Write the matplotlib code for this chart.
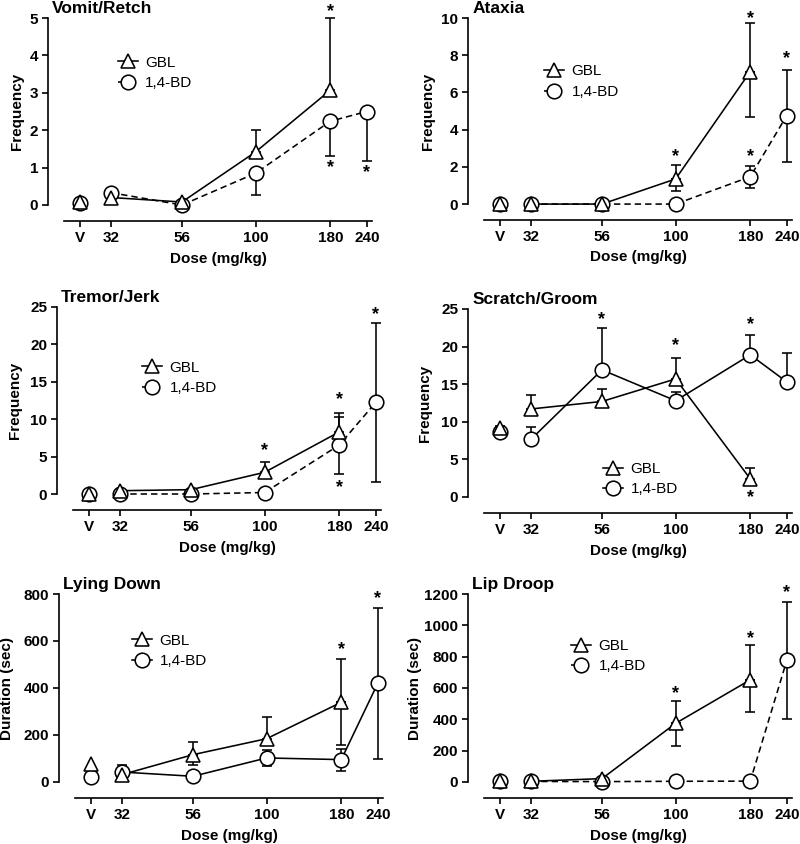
import numpy as np
import matplotlib
matplotlib.use('Agg')
import matplotlib.pyplot as plt
from matplotlib.lines import Line2D

plt.rcParams['font.family'] = ['Liberation Sans', 'DejaVu Sans']
plt.rcParams['font.weight'] = 'bold'

nan = np.nan

# ---------------- data ----------------
dose_labels = ['V', '32', '56', '100', '180', '240']
dose_pos = [25, 32, 56, 100, 180, 240]   # "V" drawn at 25 on the log dose axis

# Vomit/Retch
vomit_gbl = [0.07, 0.2, 0.08, 1.42, 3.07, nan]
vomit_gbl_up = [nan, nan, nan, 2.0, 5.0, nan]
vomit_gbl_lo = [nan, nan, nan, nan, nan, nan]
vomit_bd = [0.05, 0.33, 0.0, 0.85, 2.24, 2.5]
vomit_bd_up = [nan, nan, nan, nan, nan, nan]
vomit_bd_lo = [nan, nan, nan, 0.27, 1.3, 1.18]
vomit_star_x = [180, 180, 240]
vomit_star_y = [5.25, 1.08, 0.93]

# Ataxia
ataxia_gbl = [0, 0, 0, 1.35, 7.12, nan]
ataxia_gbl_up = [nan, nan, nan, 2.1, 9.73, nan]
ataxia_gbl_lo = [nan, nan, nan, 0.71, 4.7, nan]
ataxia_bd = [0, 0, 0, 0, 1.47, 4.76]
ataxia_bd_up = [nan, nan, nan, nan, 2.06, 7.2]
ataxia_bd_lo = [nan, nan, nan, nan, 0.85, 2.27]
ataxia_star_x = [100, 180, 180, 240]
ataxia_star_y = [2.66, 10.09, 2.66, 7.96]

# Tremor/Jerk
tremor_gbl = [0, 0.44, 0.58, 2.9, 8.3, nan]
tremor_gbl_up = [nan, nan, nan, 4.3, 10.8, nan]
tremor_gbl_lo = [nan, nan, nan, nan, nan, nan]
tremor_bd = [0, 0, 0, 0.2, 6.55, 12.25]
tremor_bd_up = [nan, nan, nan, nan, 10.3, 22.9]
tremor_bd_lo = [nan, nan, nan, nan, 2.65, 1.6]
tremor_star_x = [100, 180, 180, 240]
tremor_star_y = [6.1, 12.9, 1.24, 24.3]

# Scratch/Groom
scratch_gbl = [9.2, 11.7, 12.7, 15.7, 2.4, nan]
scratch_gbl_up = [9.5, 13.6, 14.4, 18.5, 3.86, nan]
scratch_gbl_lo = [nan, nan, nan, nan, nan, nan]
scratch_bd = [8.7, 7.65, 16.9, 12.8, 18.9, 15.3]
scratch_bd_up = [nan, 9.3, 22.5, 14.0, 21.5, 19.2]
scratch_bd_lo = [8.0, nan, nan, nan, nan, nan]
scratch_star_x = [56, 100, 180, 180]
scratch_star_y = [23.9, 20.4, 23.2, 0.3]

# Lying Down
lying_gbl = [78, 31, 116, 184, 339, nan]
lying_gbl_up = [nan, 74, 169, 276, 524, nan]
lying_gbl_lo = [nan, nan, 74, nan, 159, nan]
lying_bd = [21, 42, 24, 102, 95, 420]
lying_bd_up = [nan, nan, nan, 134, 140, 739]
lying_bd_lo = [nan, nan, nan, 69, 45, 99]
lying_star_x = [180, 240]
lying_star_y = [574, 789]

# Lip Droop
lip_gbl = [3, 4, 21, 374, 652, nan]
lip_gbl_up = [nan, nan, nan, 519, 876, nan]
lip_gbl_lo = [nan, nan, nan, 229, 449, nan]
lip_bd = [5, 3, 2, 4, 5, 776]
lip_bd_up = [nan, nan, nan, nan, nan, 1147]
lip_bd_lo = [nan, nan, nan, nan, nan, 400]
lip_star_x = [100, 180, 240]
lip_star_y = [577, 929, 1224]

# ---------------- drawing ----------------
W, H = 800, 844
fig = plt.figure(figsize=(W / 100, H / 100), dpi=100)

LW = 1.15
FS = 11
X = np.array(dose_pos, float)


def px_axes(l, t, r, b):
    return fig.add_axes([l / W, 1 - b / H, (r - l) / W, (b - t) / H])


def errbars(ax, mean, up, lo):
    mean = np.array(mean, float)
    for ends, is_up in ((up, True), (lo, False)):
        e = np.array(ends, float)
        m = np.isfinite(e)
        if not m.any():
            continue
        d = np.abs(e[m] - mean[m])
        z = np.zeros_like(d)
        yerr = [z, d] if is_up else [d, z]
        ax.errorbar(X[m], mean[m], yerr=yerr, fmt='none', ecolor='black',
                    elinewidth=LW, capsize=3.8, capthick=LW, zorder=2,
                    clip_on=False)


def panel(box, title, ylabel, ymax, ystep, gbl, gbl_up, gbl_lo, bd, bd_up, bd_lo,
          star_x, star_y, bd_dashed, leg_xy, ylab_x):
    ax = px_axes(*box)
    ax.set_xscale('log')
    ax.set_xlim(19.5, 252)
    ax.set_ylim(-ymax * 16 / 187, ymax)
    bd_ls = (0, (4, 2.5)) if bd_dashed else '-'

    errbars(ax, bd, bd_up, bd_lo)
    errbars(ax, gbl, gbl_up, gbl_lo)
    ax.plot(X[1:], np.array(bd, float)[1:], color='black', lw=LW, ls=bd_ls, zorder=3, clip_on=False)
    ax.plot(X[1:], np.array(gbl, float)[1:], color='black', lw=LW, ls='-', zorder=3, clip_on=False)
    ax.plot(X, bd, ls='none', marker='o', ms=10.5, mfc='white', mec='black', mew=LW,
            zorder=4, clip_on=False)
    ax.plot(X, gbl, ls='none', marker='^', ms=10, mfc='white', mec='black', mew=LW,
            zorder=5, clip_on=False)

    for sx, sy in zip(star_x, star_y):
        ax.annotate('*', xy=(sx, sy), xytext=(0, -1.8), textcoords='offset points',
                    ha='center', va='center', fontsize=13, fontweight='bold',
                    annotation_clip=False)

    ax.spines['top'].set_visible(False)
    ax.spines['right'].set_visible(False)
    for s in ('left', 'bottom'):
        ax.spines[s].set_linewidth(1.2)
    ax.spines['left'].set_bounds(0, ymax)
    ax.spines['bottom'].set_bounds(22.1, 250)

    ax.set_xticks(X)
    ax.set_xticklabels(dose_labels)
    ax.xaxis.set_minor_locator(matplotlib.ticker.NullLocator())
    ax.set_yticks(np.arange(0, ymax + ystep / 2, ystep))
    ax.tick_params(axis='both', direction='out', length=4, width=1.2,
                   labelsize=FS, pad=3)
    for lbl in ax.get_xticklabels() + ax.get_yticklabels():
        lbl.set_fontweight('bold')

    ax.set_xlabel('Dose (mg/kg)', fontsize=FS, fontweight='bold', va='center')
    ax.xaxis.set_label_coords(0.523, -0.185)
    ax.set_ylabel(ylabel, fontsize=FS, fontweight='bold', va='center')
    ax.yaxis.set_label_coords(ylab_x, 0.539)

    ax.annotate(title, xy=(0, 1), xycoords='axes fraction', xytext=(3, 7),
                textcoords='offset points', ha='left', va='center',
                fontsize=12.5, fontweight='bold')

    handles = [
        Line2D([], [], color='black', lw=LW, ls='-', marker='^', ms=10, mfc='white', mew=LW),
        Line2D([], [], color='black', lw=LW, ls=bd_ls, marker='o', ms=10.5, mfc='white', mew=LW),
    ]
    ax.legend(handles, ['GBL', '1,4-BD'], loc='upper left', bbox_to_anchor=leg_xy,
              frameon=False, borderpad=0, borderaxespad=0, handlelength=1.3,
              handletextpad=0.5, labelspacing=0.42,
              prop={'weight': 'normal', 'size': FS})
    return ax


panel((48, 18, 373, 221), 'Vomit/Retch', 'Frequency', 5, 1,
      vomit_gbl, vomit_gbl_up, vomit_gbl_lo, vomit_bd, vomit_bd_up, vomit_bd_lo,
      vomit_star_x, vomit_star_y, True, (0.215, 0.815), -0.095)
panel((468, 18, 793, 220), 'Ataxia', 'Frequency', 10, 2,
      ataxia_gbl, ataxia_gbl_up, ataxia_gbl_lo, ataxia_bd, ataxia_bd_up, ataxia_bd_lo,
      ataxia_star_x, ataxia_star_y, True, (0.234, 0.77), -0.123)
panel((57, 307, 382, 510), 'Tremor/Jerk', 'Frequency', 25, 5,
      tremor_gbl, tremor_gbl_up, tremor_gbl_lo, tremor_bd, tremor_bd_up, tremor_bd_lo,
      tremor_star_x, tremor_star_y, True, (0.262, 0.735), -0.129)
panel((468, 309, 793, 513), 'Scratch/Groom', 'Frequency', 25, 5,
      scratch_gbl, scratch_gbl_up, scratch_gbl_lo, scratch_bd, scratch_bd_up, scratch_bd_lo,
      scratch_star_x, scratch_star_y, False, (0.415, 0.25), -0.132)
panel((59, 594, 384, 798), 'Lying Down', 'Duration (sec)', 800, 200,
      lying_gbl, lying_gbl_up, lying_gbl_lo, lying_bd, lying_bd_up, lying_bd_lo,
      lying_star_x, lying_star_y, False, (0.225, 0.805), -0.16)
panel((468, 594, 793, 798), 'Lip Droop', 'Duration (sec)', 1200, 200,
      lip_gbl, lip_gbl_up, lip_gbl_lo, lip_bd, lip_bd_up, lip_bd_lo,
      lip_star_x, lip_star_y, True, (0.317, 0.78), -0.163)

fig.savefig('out.png', dpi=100)
